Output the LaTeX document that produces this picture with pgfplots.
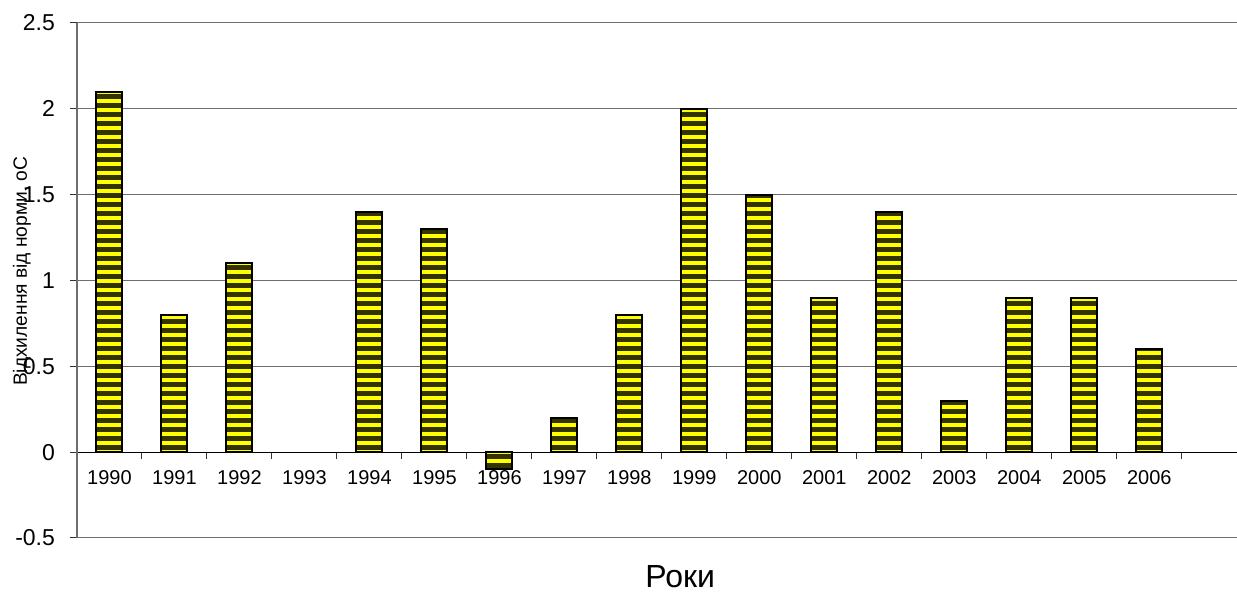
\documentclass[border=0pt]{standalone}
\usepackage{fontspec}
\setmainfont{Liberation Sans}
\usepackage{pgfplots}
\pgfplotsset{compat=1.18}
\usetikzlibrary{patterns}
\definecolor{stripedark}{RGB}{51,51,0}
\definecolor{gridgray}{RGB}{110,110,110}
% wide tiles so that no vertical seams show inside the bars
\pgfdeclarepatternformonly{hstripes}{\pgfpointorigin}{\pgfpoint{800pt}{4.25pt}}{\pgfpoint{800pt}{4.25pt}}{%
  \pgfpathrectangle{\pgfpoint{0pt}{1.1pt}}{\pgfpoint{800pt}{2pt}}\pgfusepath{fill}}

\begin{document}
\begin{tikzpicture}
\begin{axis}[
  scale only axis,
  width=580pt, height=257.5pt,
  xmin=-0.5, xmax=17.35,
  ymin=-0.5, ymax=2.5,
  axis x line=middle,
  axis y line=left,
  hide obscured x ticks=false,
  x axis line style={-, black, line width=0.6pt},
  y axis line style={-, gridgray, line width=0.6pt},
  ytick={-0.5,0,0.5,1,1.5,2,2.5},
  yticklabels={-0.5,0,0.5,1,1.5,2,2.5},
  xtick={-0.5,0.5,...,16.5},
  x tick label as interval,
  xticklabels={1990,1991,1992,1993,1994,1995,1996,1997,1998,1999,2000,2001,2002,2003,2004,2005,2006},
  tick align=outside,
  major tick length=3.5pt,
  tick style={black!80, line width=0.5pt},
  ymajorgrids,
  grid style={gridgray, line width=0.5pt},
  xticklabel style={font=\fontsize{10}{11}\selectfont, anchor=base, yshift=-12.5pt},
  yticklabel style={font=\fontsize{11.5}{12}\selectfont, anchor=east, xshift=-4pt},
  ylabel={Відхилення  від норми, oC},
  ylabel style={at={(rel axis cs:0,0.518)}, anchor=center, yshift=27.5pt, font=\fontsize{9.6}{10}\selectfont},
  xlabel={Роки},
  xlabel style={at={(rel axis cs:0.52,0)}, anchor=base, yshift=-25pt, font=\fontsize{16}{18}\selectfont},
  ybar, bar width=0.4,
  clip=false,
]
\addplot[draw=black, line width=1pt, preaction={fill=stripedark},
  pattern=hstripes, pattern color=yellow]
  coordinates {
  (0,2.1) (1,0.8) (2,1.1) (4,1.4) (5,1.3) (6,-0.1) (7,0.2) (8,0.8)
  (9,2.0) (10,1.5) (11,0.9) (12,1.4) (13,0.3) (14,0.9) (15,0.9) (16,0.6)
  };
\end{axis}
\pgfresetboundingbox
\path[use as bounding box] ([xshift=-38.5pt,yshift=-27.5pt]current axis.south west) rectangle ([yshift=11.5pt]current axis.north east);
\end{tikzpicture}
\end{document}
